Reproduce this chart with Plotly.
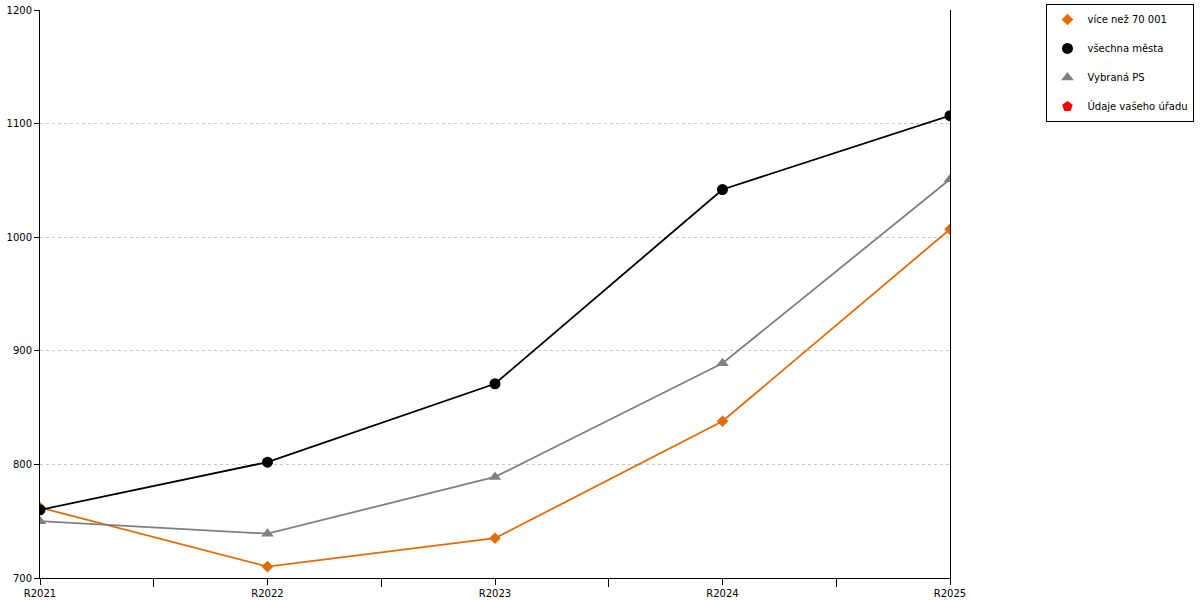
import plotly.graph_objects as go

# Data
years = ['R2021', 'R2022', 'R2023', 'R2024', 'R2025']
vice_nez_70001 = [762, 710, 735, 838, 1007]
vsechna_mesta = [760, 802, 871, 1042, 1107]
vybrana_ps = [750, 739, 789, 889, 1051]
udaje_uradu = [None, None, None, None, None]

x_idx = list(range(len(years)))

series = [
    ('více než 70 001', vice_nez_70001, '#E36C0A', 'diamond', 9),
    ('všechna města', vsechna_mesta, '#000000', 'circle', 11),
    ('Vybraná PS', vybrana_ps, '#808080', 'triangle-up', 11),
    ('Údaje vašeho úřadu', udaje_uradu, '#FF0000', 'pentagon', 11),
]

fig = go.Figure()
for i, (name, vals, color, symbol, size) in enumerate(series):
    # line without legend entry
    fig.add_trace(go.Scatter(
        x=x_idx, y=vals, mode='lines',
        line=dict(color=color, width=1.8),
        showlegend=False, hoverinfo='skip', legendgroup=f'g{i}',
    ))
    # markers carry the legend entry (legend shows symbol only)
    fig.add_trace(go.Scatter(
        x=x_idx, y=vals, name=name, mode='markers',
        marker=dict(color=color, symbol=symbol, size=size),
        legendgroup=f'g{i}',
    ))

fig.update_layout(
    width=1200, height=600,
    margin=dict(l=40, r=250, t=10, b=22, autoexpand=False),
    paper_bgcolor='white', plot_bgcolor='white',
    font=dict(family='DejaVu Sans', size=10, color='black'),
    legend=dict(
        x=1.106, y=1.0106, xanchor='left', yanchor='top',
        bordercolor='black', borderwidth=1,
        font=dict(size=10), tracegroupgap=10, itemwidth=30,
    ),
    showlegend=True,
)

fig.update_xaxes(
    range=[0, 4], tickvals=x_idx, ticktext=years,
    showgrid=False, zeroline=False,
    showline=True, linecolor='black', linewidth=1,
    ticks='outside', ticklen=6, tickcolor='black',
    minor=dict(tick0=0.5, dtick=1, ticks='outside', ticklen=8, tickcolor='black'),
    tickfont=dict(size=10), automargin=False,
)
fig.update_yaxes(
    range=[700, 1200], dtick=100,
    showgrid=True, gridcolor='#c8c8c8', griddash='dot', gridwidth=1,
    zeroline=False,
    showline=True, linecolor='black', linewidth=1, mirror=True,
    ticks='outside', ticklen=5, tickcolor='black',
    tickfont=dict(size=10), automargin=False,
)

# drop the default page margin so the figure sits at the window corner
fig.write_html("out.html", config={'displayModeBar': False},
               post_script="document.body.style.margin='0';")
